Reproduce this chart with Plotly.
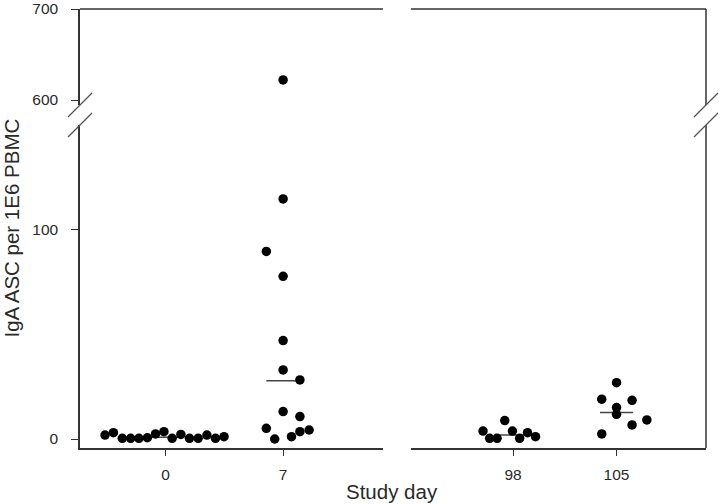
import plotly.graph_objects as go

# ---- data ----
day0_x = [-3.61, -3.11, -2.58, -2.08, -1.59, -1.09, -0.60, -0.10, 0.39, 0.91, 1.42, 1.94, 2.46, 2.97, 3.48]
day0_y = [1.9, 3.0, 0.3, 0.3, 0.3, 0.6, 2.4, 3.5, 0.3, 2.2, 0.3, 0.3, 1.9, 0.3, 1.1]

day7_x = [7.0, 7.0, 6.0, 7.0, 7.0, 7.0, 8.0, 7.0, 8.0, 6.0, 6.5, 7.5, 8.0, 8.55]
day7_y = [622, 114.7, 89.6, 77.7, 47.0, 33.0, 28.2, 13.1, 10.7, 5.1, 0.0, 1.1, 3.5, 4.3]

day98_x = [95.97, 96.42, 96.92, 97.44, 97.96, 98.45, 98.98, 99.52]
day98_y = [3.8, 0.3, 0.3, 8.8, 3.8, 0.3, 3.0, 1.1]

day105_x = [105.0, 104.0, 106.05, 105.0, 105.0, 107.05, 106.05, 104.0]
day105_y = [26.9, 19.0, 18.5, 15.0, 11.8, 9.1, 6.7, 2.4]

median_days = [0, 7, 98, 105]
median_vals = [0.8, 27.8, 1.9, 12.6]

x_left_ticks = [0, 7]
x_right_ticks = [98, 105]
y_low_ticks = [0, 100]
y_high_ticks = [600, 700]

LOW_MAX = 150
HIGH_MIN = 594.5

AX = "#333333"
TXT = "#2a2a2a"
FONT = "Arial, Liberation Sans, sans-serif"

fig = go.Figure()


def add_points(xs, ys, xa):
    lo_x = [x for x, y in zip(xs, ys) if y <= LOW_MAX]
    lo_y = [y for y in ys if y <= LOW_MAX]
    hi_x = [x for x, y in zip(xs, ys) if y > LOW_MAX]
    hi_y = [y for y in ys if y > LOW_MAX]
    mk = dict(color="black", size=9.5)
    fig.add_trace(go.Scatter(x=lo_x, y=lo_y, mode="markers", marker=mk,
                             xaxis=xa, yaxis="y", showlegend=False, hoverinfo="x+y"))
    if hi_y:
        fig.add_trace(go.Scatter(x=hi_x, y=hi_y, mode="markers", marker=mk,
                                 xaxis=xa, yaxis="y2", showlegend=False, hoverinfo="x+y"))


# median lines (behind points)
for d, m in zip(median_days, median_vals):
    xa = "x" if d < 50 else "x2"
    hw = 1.0 if d < 50 else 1.12
    fig.add_trace(go.Scatter(x=[d - hw, d + hw], y=[m, m], mode="lines",
                             line=dict(color="#444444", width=1.5),
                             xaxis=xa, yaxis="y", showlegend=False, hoverinfo="skip"))

add_points(day0_x, day0_y, "x")
add_points(day7_x, day7_y, "x")
add_points(day98_x, day98_y, "x2")
add_points(day105_x, day105_y, "x2")

W, H = 720, 504
L, R, T, B = 80, 14, 9, 56
pw = W - L - R
ph = H - T - B

x1_dom = [0, (383 - L) / pw]
x2_dom = [(411 - L) / pw, 1]
y1_dom = [0, (448 - 125) / ph]
y2_dom = [(448 - 105) / ph, 1]

tickfont = dict(family=FONT, size=15.5, color=TXT)
common_x = dict(showline=True, linecolor=AX, linewidth=1.5, ticks="outside",
                ticklen=6, tickcolor=AX, tickwidth=1.2, showgrid=False,
                zeroline=False, tickfont=tickfont, ticklabelstandoff=6,
                automargin=False)
common_y = dict(showline=True, linecolor=AX, linewidth=1.5, ticks="outside",
                ticklen=7, tickcolor=AX, tickwidth=1.2, showgrid=False,
                zeroline=False, tickfont=tickfont, ticklabelstandoff=10,
                automargin=False)

fig.update_layout(
    width=W, height=H,
    margin=dict(l=L, r=R, t=T, b=B, autoexpand=False),
    plot_bgcolor="white", paper_bgcolor="white",
    xaxis=dict(domain=x1_dom, range=[-5.1, 12.95], anchor="y",
               tickvals=x_left_ticks, **common_x),
    xaxis2=dict(domain=x2_dom, range=[91.1, 111.05], anchor="y",
                tickvals=x_right_ticks, **common_x),
    yaxis=dict(domain=y1_dom, range=[-4.3, LOW_MAX], anchor="x",
               tickvals=y_low_ticks, **common_y),
    yaxis2=dict(domain=y2_dom, range=[HIGH_MIN, 700], anchor="x",
                tickvals=y_high_ticks, **common_y),
)

line_style = dict(color=AX, width=1.5)
shapes = []
# top frame lines (with gap), right frame lines (with break)
shapes.append(dict(type="line", xref="x domain", yref="paper", x0=0, x1=1, y0=1, y1=1, line=line_style))
shapes.append(dict(type="line", xref="x2 domain", yref="paper", x0=0, x1=1, y0=1, y1=1, line=line_style))
shapes.append(dict(type="line", xref="paper", yref="paper", x0=1, x1=1, y0=y2_dom[0], y1=1, line=line_style))
shapes.append(dict(type="line", xref="paper", yref="paper", x0=1, x1=1, y0=0, y1=y1_dom[1], line=line_style))
# break slashes
slash = dict(color="#555555", width=1.2)
for xa in (0, 1):
    for ya in (y1_dom[1], y2_dom[0]):
        shapes.append(dict(type="line", xref="paper", yref="paper",
                           xsizemode="pixel", ysizemode="pixel",
                           xanchor=xa, yanchor=ya,
                           x0=-12, x1=12, y0=-12, y1=12, line=slash))
fig.update_layout(shapes=shapes)

fig.add_annotation(text="Study day", xref="paper", yref="paper", x=(392 - L) / pw, y=(448 - 492) / ph,
                   showarrow=False, font=dict(family=FONT, size=20.5, color=TXT),
                   xanchor="center", yanchor="middle")
fig.add_annotation(text="IgA ASC per 1E6 PBMC", xref="paper", yref="paper",
                   x=-(L - 11) / pw, y=(448 - 228.5) / ph, textangle=-90,
                   showarrow=False, font=dict(family=FONT, size=20.5, color=TXT),
                   xanchor="center", yanchor="middle")

fig.write_html("out.html", config={"displayModeBar": False},
               post_script="document.body.style.margin='0';")
